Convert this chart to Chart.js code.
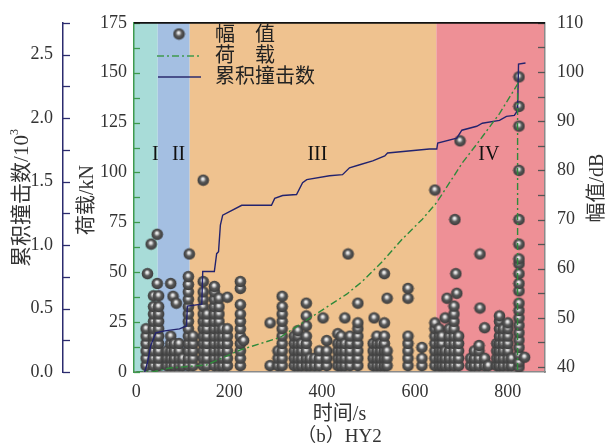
<!DOCTYPE html>
<html><head><meta charset="utf-8">
<script src="https://cdn.jsdelivr.net/npm/chart.js@4.4.1/dist/chart.umd.min.js"></script>
<style>html,body{margin:0;padding:0;background:#fff;}#wrap{width:610px;height:447px;}</style>
</head><body><div id="wrap"><canvas id="c" width="610" height="447"></canvas></div>
<script>
// ---------- data ----------
const timeTicks = [0, 200, 400, 600, 800];
const loadTicks = [0, 25, 50, 75, 100, 125, 150, 175];
const cumTicks = [0, 500, 1000, 1500, 2000, 2500];
const ampTicks = [40, 50, 60, 70, 80, 90, 100, 110];

const stageBounds = [-5, 46, 115, 646, 880];
const stageLabels = ['I', 'II', 'III', 'IV'];
const stageLabelTime = [41, 91, 390, 759];

const loadTime  = [0, 35, 72, 151, 222, 309, 388, 453, 487, 530, 573, 616, 647, 702, 739, 782, 821, 821];
const loadValue = [0, 0, 2, 3.5, 10.9, 17.3, 29.2, 39, 45.5, 55.4, 66.7, 76.6, 85, 104.8, 116, 129.5, 144.3, 0];

const cumTime  = [18, 24, 31, 42, 61, 93, 108, 110, 141, 143, 168, 173, 177, 181, 186, 227, 291, 298, 315, 345, 358, 367, 416, 444, 459, 481, 509, 535, 541, 631, 647, 649, 690, 701, 733, 745, 782, 797, 814, 821, 823, 838];
const cumCount = [0, 75, 208, 309, 324, 340, 363, 519, 534, 791, 791, 932, 947, 1157, 1235, 1313, 1313, 1367, 1390, 1398, 1491, 1515, 1546, 1554, 1608, 1632, 1663, 1702, 1725, 1756, 1756, 1803, 1842, 1904, 1935, 1959, 1982, 2013, 2021, 2060, 2425, 2433];

// amplitude hits: [time, [dB values]]
const ampCols = [
 [21, [40.3, 41.8, 43.3, 44.8, 46.3, 47.8]],
 [24, [59]],
 [32, [65]],
 [37, [40.3, 41.8, 43.3, 44.8, 46.3, 47.8, 49.3, 50.8, 52.3, 54.5]],
 [45, [57, 67]],
 [48, [40.3, 41.8, 43.3, 44.8, 46.3, 47.8, 49.3, 50.8, 52.3, 54.5]],
 [66, [40.3, 41.8, 43.3]],
 [74, [40.3, 41.8, 43.3, 44.8, 46.3, 57]],
 [79, [54.4]],
 [82, [40.3, 41.8, 43.3, 44.8]],
 [86, [53]],
 [92, [40.3, 41.8, 43.3, 44.8]],
 [100, [40.3, 41.8]],
 [112, [40.3, 41.8, 43.3, 44.8, 46.3, 47.8, 49.3, 50.8, 52.3, 53.8, 55.3, 56.8, 58.4]],
 [114, [63]],
 [122, [40.3, 41.8, 43.3, 44.8, 46.3]],
 [144, [40.3, 41.8, 43.3, 44.8, 46.3, 47.8, 49.3, 50.8, 52.3, 53.8, 55.3, 57.4, 78]],
 [152, [40.3, 41.8, 43.3, 44.8, 46.3, 47.8, 49.3, 50.8]],
 [168, [40.3, 41.8, 43.3, 44.8, 46.3, 47.8, 49.3, 50.8, 52.3, 53.8, 55.3, 56.4]],
 [178, [40.3, 41.8, 43.3, 44.8, 46.3, 47.8, 49.3, 50.8, 52.3, 54]],
 [186, [40.3, 41.8, 43.3, 44.8, 46.3, 47.8]],
 [196, [40.3, 41.8, 43.3, 44.8, 46.3, 47.8, 54.2]],
 [224, [40.3, 41.8, 43.3, 44.8, 46.3, 47.8, 49.3, 50.8, 52.7, 56, 57.4]],
 [231, [45.4]],
 [288, [40.3, 49]],
 [305, [40.3, 41.8, 43.3]],
 [314, [40.3, 41.8, 43.3, 44.8, 46.3, 47.8, 49.3, 50.8, 52.3, 54.4]],
 [340, [40.3, 41.8, 43.3, 44.8, 46.3]],
 [348, [40.3, 41.8, 43.3, 44.8, 46.3, 47.4]],
 [356, [40.3, 41.8, 43.3, 44.8]],
 [366, [40.3, 41.8, 43.3, 44.8, 46.3, 48.4, 50.4, 53]],
 [374, [40.3, 41.8]],
 [384, [40.3, 41.8]],
 [394, [40.3, 41.8, 43.3]],
 [402, [50]],
 [410, [40.3, 41.8, 43.3, 45.4]],
 [434, [40.3, 41.8, 43.3, 44.8, 46.8]],
 [441, [40.3, 41.8, 43.3, 44.8, 46.3]],
 [449, [40.3, 41.8, 43.3, 44.8, 50]],
 [456, [63]],
 [460, [40.3, 41.8, 43.3, 44.8, 46.3]],
 [477, [40.3, 41.8, 43.3, 44.8, 46.3, 47.8, 49, 53]],
 [510, [40.3, 41.8, 43.3, 44.8]],
 [512, [50]],
 [518, [40.3, 41.8, 43.3, 44.8, 46.3]],
 [526, [40.3, 41.8, 43.3, 44.8]],
 [534, [40.3, 41.8, 43.3, 44.8, 46.3, 49, 59]],
 [540, [40.3, 41.8, 43.3, 54]],
 [585, [40.3, 41.8, 43.3, 44.8, 46.3, 54, 56]],
 [615, [40.3, 41.8, 44]],
 [643, [40.3, 41.8, 43.3, 44.8, 46.3, 47.8, 49, 76]],
 [652, [40.3, 41.8, 43.3, 44.8, 46.3, 47.8]],
 [658, [40.3, 41.8, 43.3, 44.8, 46.3]],
 [665, [40.3, 41.8, 43.3, 50]],
 [669, [54]],
 [674, [40.3, 41.8, 43.3, 44.8, 46.3, 47.8]],
 [684, [40.3, 41.8, 43.3, 44.8, 46.3, 47.8, 49.3, 50.8, 52.4]],
 [686, [70]],
 [688, [59]],
 [690, [55]],
 [694, [40.3, 41.8, 43.3, 44.8, 46.3]],
 [697, [86]],
 [720, [40.3, 41.8]],
 [728, [40.3, 41.8, 43.3]],
 [738, [40.3, 41.8, 43.3, 44.4]],
 [740, [52, 63]],
 [750, [40.3, 41.8, 48]],
 [758, [40.3]],
 [776, [40.3, 41.8, 43.3, 44.8]],
 [782, [40.3, 41.8, 43.3, 44.8, 46.3, 47.8, 49.3, 50.4]],
 [790, [40.3, 41.8, 43.3, 44.8, 46.3, 47.8]],
 [800, [40.3, 41.8, 43.3, 44.8, 46.3, 47.8, 49]],
 [808, [40.3, 41.8]],
 [824, [40, 41, 42.5, 44, 45.5, 47, 48.5, 50, 51.5, 53, 55.5, 57, 59, 61, 62, 65, 70, 80, 89, 93, 99]],
 [836, [42]]
];

// ---------- styles ----------
const stageColors = ['#a8dcd8', '#a4bfe2', '#efc28f', '#ee9096'];
const SERIF = "'Liberation Serif','Noto Sans CJK SC'";
const tickFont = {family: SERIF, size: 18};
const txt = '#333333';
const cLoad = '#3f9a4e', cCum = '#2b2b6e', cAmp = '#8a8a8a';

const ball = (() => {
  const c = document.createElement('canvas'); c.width = 13; c.height = 13;
  const g = c.getContext('2d');
  const gr = g.createRadialGradient(6.0, 5.0, 0.2, 6.5, 6.5, 6.0);
  gr.addColorStop(0, '#ffffff'); gr.addColorStop(0.2, '#cfcfcf');
  gr.addColorStop(0.48, '#5a5a5a'); gr.addColorStop(1, '#383838');
  g.fillStyle = gr; g.beginPath(); g.arc(6.5, 6.5, 5.8, 0, Math.PI * 2); g.fill();
  return c;
})();

const ampPoints = [];
ampCols.forEach(([t, vals]) => vals.forEach(v => ampPoints.push({x: t, y: v})));

function inTicks(ctx, scale, x, from, to, step, len, color) {
  ctx.strokeStyle = color; ctx.lineWidth = 1.3;
  for (let v = from; v <= to + 1e-9; v += step) {
    const y = Math.round(scale.getPixelForValue(v)) + 0.5;
    ctx.beginPath(); ctx.moveTo(x, y); ctx.lineTo(x + len, y); ctx.stroke();
  }
}

function rotText(ctx, parts, cx, cy) {
  let total = 0;
  parts.forEach(p => { ctx.font = p.font; p.w = ctx.measureText(p.t).width; total += p.w; });
  ctx.save(); ctx.translate(cx, cy); ctx.rotate(-Math.PI / 2);
  let x = -total / 2;
  ctx.textBaseline = 'middle'; ctx.textAlign = 'left'; ctx.fillStyle = txt;
  parts.forEach(p => { ctx.font = p.font; ctx.fillText(p.t, x, p.dy || 0); x += p.w; });
  ctx.restore();
}

const decor = {
  id: 'decor',
  beforeDraw(chart) {
    const {ctx, chartArea: a, scales: {x}} = chart;
    ctx.save();
    for (let i = 0; i < stageColors.length; i++) {
      const x0 = Math.max(a.left, x.getPixelForValue(stageBounds[i]));
      const x1 = Math.min(a.right, x.getPixelForValue(stageBounds[i + 1]));
      ctx.fillStyle = stageColors[i];
      ctx.fillRect(x0, a.top, x1 - x0, a.bottom - a.top);
    }
    ctx.restore();
  },
  afterDraw(chart) {
    const {ctx, chartArea: a, scales} = chart;
    ctx.save();
    inTicks(ctx, scales.yLoad, scales.yLoad.right, 0, 175, 12.5, 6, cLoad);
    inTicks(ctx, scales.yCum, scales.yCum.right, 0, 2750, 250, 7, cCum);
    inTicks(ctx, scales.yAmp, scales.yAmp.left, 40, 110, 5, -7, '#555');
    ctx.strokeStyle = '#111'; ctx.lineWidth = 1.8;
    ctx.beginPath(); ctx.moveTo(a.left, a.top); ctx.lineTo(a.right, a.top); ctx.stroke();
    ctx.fillStyle = '#111'; ctx.font = "20px 'Liberation Serif'";
    ctx.textAlign = 'center'; ctx.textBaseline = 'middle';
    const ly = scales.yLoad.getPixelForValue(109);
    stageLabels.forEach((s, i) => ctx.fillText(s, scales.x.getPixelForValue(stageLabelTime[i]), ly));
    ctx.drawImage(ball, 179 - 6.5, 34 - 6.5);
    ctx.setLineDash([7, 3, 2, 3]); ctx.strokeStyle = cLoad; ctx.lineWidth = 1.5;
    ctx.beginPath(); ctx.moveTo(157, 56); ctx.lineTo(201, 56); ctx.stroke();
    ctx.setLineDash([]); ctx.strokeStyle = cCum;
    ctx.beginPath(); ctx.moveTo(158, 77); ctx.lineTo(201, 77); ctx.stroke();
    ctx.fillStyle = '#222'; ctx.font = "20px " + SERIF; ctx.textAlign = 'left'; ctx.textBaseline = 'middle';
    ctx.fillText('幅\u3000值', 215, 36);
    ctx.fillText('荷\u3000载', 215, 57);
    ctx.fillText('累积撞击数', 215, 78);
    rotText(ctx, [{t: '累积撞击数/10', font: "21px " + SERIF}, {t: '3', font: "12px 'Liberation Serif'", dy: -7}], 22, 198);
    rotText(ctx, [{t: '荷载/kN', font: "20px " + SERIF}], 88, 200);
    rotText(ctx, [{t: '幅值/dB', font: "20px " + SERIF}], 598, 188);
    ctx.fillStyle = txt; ctx.textAlign = 'center'; ctx.textBaseline = 'middle';
    ctx.font = "20px " + SERIF; ctx.fillText('时间/s', (a.left + a.right) / 2, 415);
    ctx.font = "19px " + SERIF; ctx.fillText('（b）HY2', (a.left + a.right) / 2, 437);
    ctx.restore();
  }
};

new Chart(document.getElementById('c'), {
  data: {
    datasets: [
      {type: 'line', label: '荷载', data: loadTime.map((t, i) => ({x: t, y: loadValue[i]})), yAxisID: 'yLoad',
       borderColor: '#2f8a3a', borderWidth: 1.4, borderDash: [7, 3, 2, 3], pointRadius: 0, tension: 0, order: 1},
      {type: 'line', label: '累积撞击数', data: cumTime.map((t, i) => ({x: t, y: cumCount[i]})), yAxisID: 'yCum',
       borderColor: '#23236e', borderWidth: 1.4, pointRadius: 0, tension: 0, order: 2},
      {type: 'scatter', label: '幅值', data: ampPoints, yAxisID: 'yAmp', pointStyle: ball, pointRadius: 6, order: 3}
    ]
  },
  options: {
    responsive: false, animation: false, events: [],
    layout: {padding: {top: 18, left: 0, right: 0, bottom: 0}},
    plugins: {legend: {display: false}, tooltip: {enabled: false}},
    scales: {
      x: {type: 'linear', position: 'bottom', min: -5, max: 880,
          afterBuildTicks: s => { s.ticks = timeTicks.map(v => ({value: v})); },
          afterFit: s => { s.height = 75; },
          grid: {display: false, drawTicks: false}, border: {color: cAmp, width: 1.5},
          ticks: {font: tickFont, color: txt, padding: 9, maxRotation: 0}},
      yLoad: {type: 'linear', position: 'left', weight: 0, min: 0, max: 175,
          afterBuildTicks: s => { s.ticks = loadTicks.map(v => ({value: v})); },
          afterFit: s => { s.width = 71; },
          grid: {display: false, drawTicks: false}, border: {color: cLoad, width: 1.5},
          ticks: {font: tickFont, color: txt, padding: 7}},
      yCum: {type: 'linear', position: 'left', weight: 1, min: 0, max: 2750,
          afterBuildTicks: s => { s.ticks = cumTicks.map(v => ({value: v})); },
          afterFit: s => { s.width = 63; },
          grid: {display: false, drawTicks: false}, border: {color: cCum, width: 1.5},
          ticks: {font: tickFont, color: txt, padding: 10, callback: v => (v / 1000).toFixed(1)}},
      yAmp: {type: 'linear', position: 'right', min: 39, max: 110,
          afterBuildTicks: s => { s.ticks = ampTicks.map(v => ({value: v})); },
          afterFit: s => { s.width = 65; },
          grid: {display: false, drawTicks: false}, border: {color: cAmp, width: 1.5},
          ticks: {font: tickFont, color: txt, padding: 12}}
    }
  },
  plugins: [decor]
});
</script></body></html>
